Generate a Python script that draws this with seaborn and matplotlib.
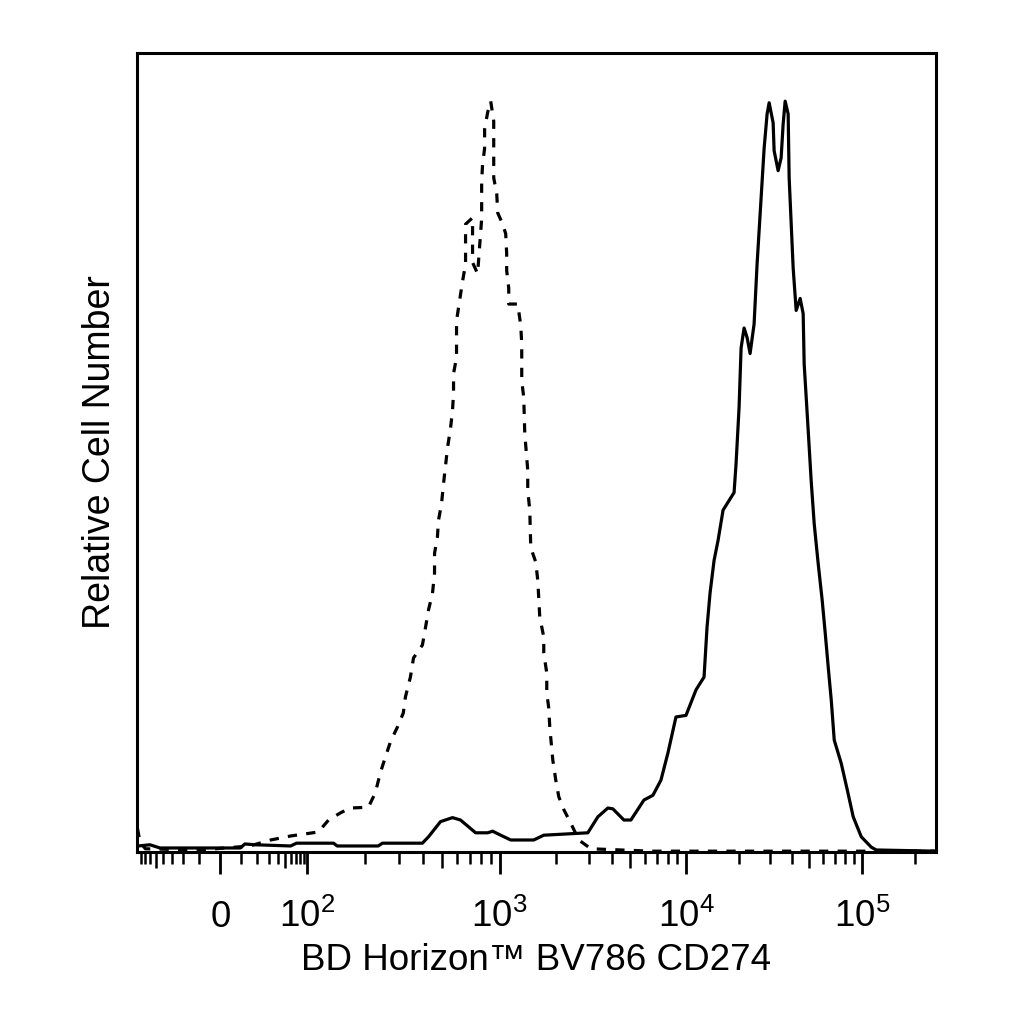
import numpy as np
import pandas as pd
import matplotlib
matplotlib.use('Agg')
import matplotlib.pyplot as plt
import seaborn as sns

# Data: fluorescence intensity (BV786 CD274) vs relative cell number
iso_x = [-88, -81, -69, -9.5, 15, 32, 60, 114, 129, 149, 167, 208, 226, 240, 252, 271, 294, 316,
         324, 344, 357, 397, 412, 427, 448, 459, 459, 475, 481, 499, 511, 536, 556, 569, 576, 576,
         597, 597, 619, 642, 665, 665, 723, 723, 768, 806, 806, 815, 835, 835, 866, 898, 931, 931,
         965, 977, 1038, 1077, 1090, 1090, 1118, 1118, 1250, 1297, 1313, 1313, 1346, 1363, 1414,
         1414, 1450, 1468, 1561, 1601, 1641, 1724, 1724, 1789, 1789, 1834, 1857, 1928, 2000, 2076,
         2209, 2408, 2659, 3085, 6480, 262143]
iso_y = [3.0, 1.2, 0.4, 0.25, 0.75, 1.5, 2.0, 2.5, 4.0, 4.9, 5.5, 5.6, 7.4, 9.9, 11.5, 13.8, 15.6, 17.4,
         19.4, 21.9, 24.3, 25.9, 28.1, 30.3, 32.4, 34.9, 37.4, 39.4, 41.5, 43.6, 46.1, 50.6, 53.1, 55.3,
         57.4, 59.9, 61.9, 66.5, 69.0, 71.5, 73.6, 78.6, 79.4, 73.8, 72.4, 79.3, 84.0, 86.1, 88.1, 90.5,
         92.6, 94.0, 91.5, 84.4, 82.4, 80.0, 78.6, 77.4, 74.9, 72.8, 70.6, 68.6, 68.6, 65.9, 63.6, 59.0,
         56.9, 52.4, 47.8, 45.3, 42.8, 38.1, 36.3, 34.0, 29.4, 26.9, 24.9, 22.4, 19.9, 18.0, 15.6, 11.5,
         9.0, 6.9, 5.3, 3.6, 1.5, 0.4, 0.1, 0.1]

cd_x = [-86, -60, -44, 9.5, 12, 19, 60, 72, 137, 143, 234, 246, 397, 427, 493, 569, 626, 750, 866,
        919, 1012, 1146, 1523, 1724, 2972, 3365, 3807, 4050, 4642, 5062, 5945, 6647, 7338, 8000, 8834,
        10000, 11400, 12660, 13160, 13690, 14430, 15200, 16230, 18740, 19230, 20000, 20540, 21360,
        22220, 23100, 24340, 25310, 26680, 27750, 28850, 29630, 31210, 31620, 33320, 34650, 35570,
        36520, 37980, 38480, 40550, 42170, 44430, 46210, 46820, 49340, 51300, 53370, 56230, 59250,
        61640, 64130, 66700, 69350, 75960, 82170, 88850, 98700, 112500, 120100, 262143]
cd_y = [0.75, 0.9, 0.5, 0.5, 1.0, 0.9, 0.75, 1.1, 1.1, 0.75, 0.75, 1.1, 1.1, 1.9, 3.8, 4.3, 4.0, 2.4,
        2.4, 2.6, 2.1, 1.5, 1.5, 2.1, 2.4, 4.4, 5.5, 5.4, 4.0, 4.0, 6.5, 7.1, 9.0, 12.4, 16.9, 17.1,
        20.3, 21.9, 28.1, 32.4, 36.5, 39.0, 42.8, 45.0, 48.6, 55.6, 63.1, 65.6, 64.4, 62.4, 66.1, 73.6,
        81.9, 88.1, 92.4, 93.8, 91.3, 87.8, 85.3, 86.9, 91.1, 94.0, 92.4, 84.4, 73.1, 67.8, 69.3, 67.4,
        61.1, 52.8, 46.5, 41.1, 36.1, 31.5, 27.4, 23.1, 19.0, 14.0, 11.1, 7.8, 4.4, 1.9, 0.6, 0.25, 0.1]

major_ticks = [0, 100, 1000, 10000, 100000]
major_labels = ['0', '10^{2}', '10^{3}', '10^{4}', '10^{5}']
x_min, x_max = -89, 262143

# biexponential-like axis: arcsinh, then stretched to the decade widths of the cytometer plot
C = 15.0
anchor_vals = np.array([-1e6, -1e5, -1e4, -1e3, -100, 0, 100, 1e3, 1e4, 1e5, 1e6])
anchor_pos = np.array([-817, -641, -465, -279, -87, 0, 87, 279, 465, 641, 817], dtype=float)
anchor_u = np.arcsinh(anchor_vals / C)


def fwd(x):
    return np.interp(np.arcsinh(np.asarray(x, dtype=float) / C), anchor_u, anchor_pos)


def inv(p):
    return C * np.sinh(np.interp(np.asarray(p, dtype=float), anchor_pos, anchor_u))


medium_ticks = [-50, 50, 500, 5000, 50000]
minor_ticks = ([-v for v in (10, 20, 30, 40, 60, 70, 80)] + [10, 20, 30, 40, 60, 70, 80, 90]
               + [m * d for d in (100, 1000, 10000) for m in (2, 3, 4, 6, 7, 8, 9)] + [200000])

sns.set_style('white')
plt.rcParams['font.family'] = ['Liberation Sans', 'DejaVu Sans']
plt.rcParams['mathtext.fontset'] = 'custom'
plt.rcParams['mathtext.rm'] = 'Liberation Sans'
plt.rcParams['mathtext.it'] = 'Liberation Sans:italic'
plt.rcParams['mathtext.bf'] = 'Liberation Sans:bold'
plt.rcParams['text.color'] = 'black'
plt.rcParams['axes.labelcolor'] = 'black'
plt.rcParams['xtick.color'] = 'black'
plt.rcParams['xtick.labelcolor'] = 'black'

iso = pd.DataFrame({'x': iso_x, 'y': iso_y})
cd = pd.DataFrame({'x': cd_x, 'y': cd_y})

fig = plt.figure(figsize=(10.24, 10.24), dpi=100)
ax = fig.add_axes([0.1338, 0.168, 0.7803, 0.780])
ax.set_xscale('function', functions=(fwd, inv))

sns.lineplot(data=iso, x='x', y='y', sort=False, estimator=None, color='black', lw=2.3, ax=ax)
ax.lines[-1].set_dashes((2.9, 2.9))
sns.lineplot(data=cd, x='x', y='y', sort=False, estimator=None, color='black', lw=2.3, ax=ax)

ax.set_xlim(x_min, x_max)
ax.set_ylim(0, 100)
ax.set_yticks([])

ax.set_xticks(major_ticks)
ax.set_xticklabels(['$\\mathregular{' + s + '}$' for s in major_labels])
ax.set_xticks(minor_ticks, minor=True)
ax.tick_params(axis='x', which='major', direction='out', length=15.8, width=2.0,
               color='black', labelcolor='black', pad=38, labelsize=26.5, bottom=True)
ax.tick_params(axis='x', which='minor', direction='out', length=8.5, width=1.8,
               color='black', bottom=True)
plt.setp(ax.get_xticklabels(), va='baseline')

# second axis only for the mid-decade ticks
ax2 = ax.twiny()
ax2.set_xscale('function', functions=(fwd, inv))
ax2.set_xlim(x_min, x_max)
ax2.xaxis.set_ticks_position('bottom')
ax2.set_xticks(medium_ticks)
ax2.set_xticklabels([])
ax2.set_xticks([], minor=True)
ax2.tick_params(axis='x', which='major', direction='out', length=11.5, width=1.8, color='black',
                bottom=True, top=False)
for s in ax2.spines.values():
    s.set_visible(False)

for s in ax.spines.values():
    s.set_visible(True)
    s.set_color('black')
    s.set_linewidth(2.2)

ax.set_xlabel('BD Horizon\u2122 BV786 CD274', fontsize=26.5, labelpad=6, color='black')
ax.set_ylabel('Relative Cell Number', fontsize=27, labelpad=14, color='black')

fig.savefig('out.png', dpi=100)
